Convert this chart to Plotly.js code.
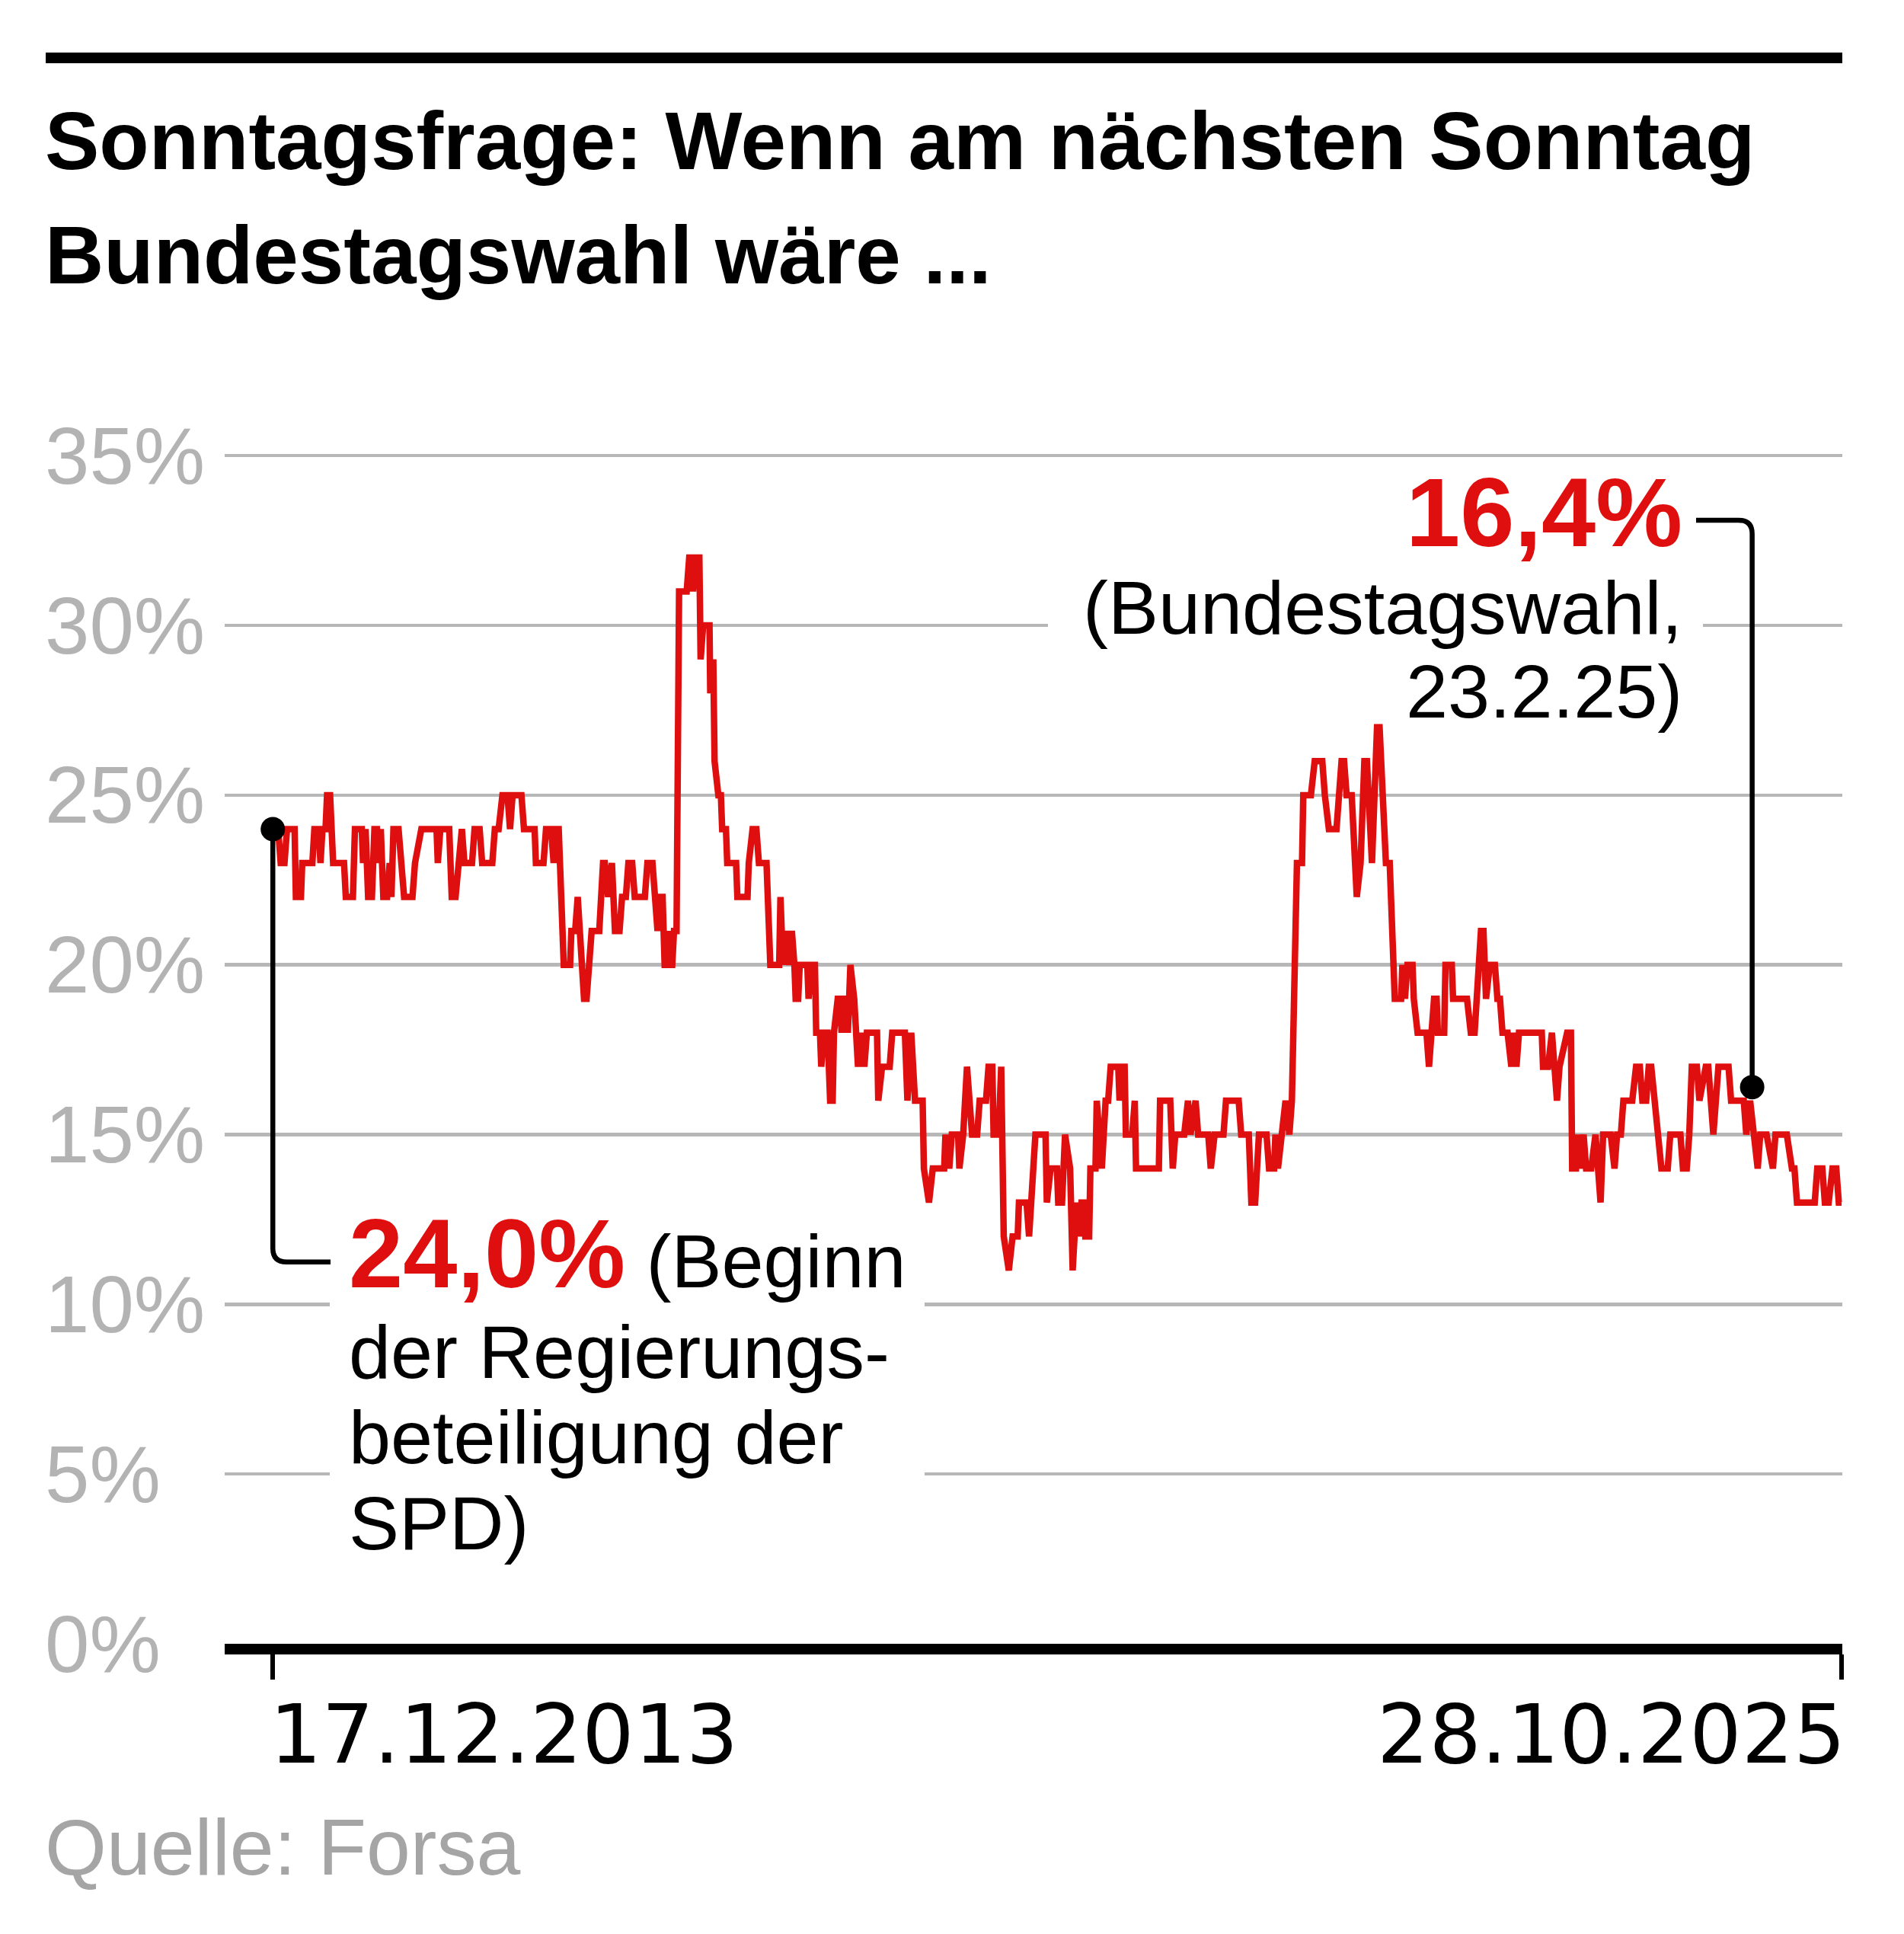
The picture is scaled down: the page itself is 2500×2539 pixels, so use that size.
<!DOCTYPE html>
<html><head><meta charset="utf-8">
<script src="https://cdn.plot.ly/plotly-3.0.1.min.js"></script>
<style>html,body{margin:0;padding:0;background:#fff;}#chart{width:2500px;height:2539px;}</style>
</head><body><div id="chart"></div>
<script>
// ---- DATA (poll week since 17.12.2013, SPD share in %) ----
const startDate = '2013-12-17';
const endDate = '2025-10-28';
const electionDate = '2025-02-23';
const startValue = 24.0;
const electionValue = 16.4;
const yTicks = [0, 5, 10, 15, 20, 25, 30, 35];
const yTickLabels = ['0%', '5%', '10%', '15%', '20%', '25%', '30%', '35%'];
const xTickLabels = ['17.12.2013', '28.10.2025'];

const seg1 = [[0,24],[2.1,24],[3.1,23],[4.6,23],[5.6,24],[8.6,24],[9.1,22],[11.1,22],[11.6,23],[15.6,23],[16.4,24],[18.1,24],[18.8,23],[19.6,24],[20.8,24],[21.4,25],[22.6,25],[23.8,23],[28.1,23],[28.8,22],[31.6,22],[32.4,24],[35.1,24],[35.6,23],[36.6,24],[37.6,22],[39.1,22],[40.1,24],[41.1,24],[42.1,23],[42.6,24],[43.6,22],[45.1,22],[46.1,23],[46.8,22],[47.6,24],[49.6,24],[50.6,23],[51.8,22],[55.1,22],[56.1,23],[58.6,24],[64.6,24],[65.1,23],[66.1,24],[69.6,24],[70.6,22],[72.1,22],[73.1,23],[74.6,24],[75.6,23],[78.6,23],[79.6,24],[81.6,24],[82.6,23],[86.6,23],[87.6,24],[89.1,24],[90.6,25],[92.6,25],[93.6,24],[94.6,25],[98.1,25],[99.1,24]];
const seg2 = [[103.3,24],[103.8,23],[106.8,23],[107.8,24],[109.8,24],[110.3,23],[110.8,23],[111.3,24],[112.8,24],[114.8,20],[117.3,20],[117.8,21],[119.3,21],[120.3,22],[121.3,21],[122.8,19],[123.8,19],[125.8,21],[128.8,21],[129.3,22],[130.3,23],[131.0,23],[132.3,22],[133.8,23],[135.0,21],[136.8,21],[137.8,22],[139.3,22],[140.3,23],[141.8,23],[142.8,22],[146.8,22],[147.8,23],[149.8,23],[150.8,22],[151.8,21],[152.8,22],[153.8,22],[154.6,20],[155.3,20],[156.0,21],[156.6,20],[157.6,20],[158.3,21],[159.3,21],[160.3,31],[163.3,31],[164.3,32],[165.3,32],[165.8,31],[166.8,32],[168.3,32],[168.8,29],[169.8,30],[172.3,30],[172.6,28],[173.8,29],[174.3,26],[175.8,25],[176.8,25],[177.3,24],[178.8,24],[179.3,23],[182.8,23],[183.3,22],[187.3,22],[187.8,23],[189.3,24],[190.8,24],[191.8,23],[194.8,23],[196.3,20],[199.8,20],[200.3,22],[201.3,20],[202.3,21],[203.8,20],[204.8,21],[205.8,20],[206.3,19],[207.3,19]];
const seg3 = [[207.9,20],[210.9,20],[211.4,19],[212.4,20],[213.9,20],[214.4,18],[215.9,18],[216.4,17],[217.4,18],[218.9,18],[219.9,16],[220.9,16],[221.4,18],[222.9,19],[223.9,19],[224.4,18],[224.9,19],[226.4,19],[226.9,18],[227.9,20],[229.4,19],[230.9,17],[231.9,18],[233.4,17],[234.4,18],[238.4,18],[238.9,16],[240.4,17],[243.4,17],[244.4,18],[249.4,18],[250.4,16],[251.9,18],[253.4,16],[256.4,16],[256.9,14],[258.9,13],[260.4,14],[264.9,14],[265.4,15],[266.9,14],[267.9,15],[270.4,15],[270.9,14],[272.4,15],[273.9,17],[275.9,15],[277.9,15],[278.9,16],[281.4,16],[282.4,17],[283.9,17],[284.4,15],[286.4,15],[287.4,17],[288.4,12],[290.4,11],[291.9,12],[293.9,12],[294.4,13],[297.4,13],[298.4,12],[300.9,15],[304.9,15],[305.4,13],[306.9,14],[309.4,14],[309.9,13],[311.4,13]];
const seg4 = [[312.6,15],[314.1,14],[314.6,14],[315.6,11],[317.1,13],[318.1,12],[319.1,13],[320.1,13],[320.6,12],[322.1,12],[322.6,14],[324.6,14],[325.1,16],[327.1,14],[328.6,16],[329.6,16],[330.6,17],[333.6,17],[334.1,16],[335.1,17],[336.1,17],[336.6,15],[339.1,15],[340.1,16],[340.6,14],[349.6,14],[350.1,16],[354.1,16],[355.1,14],[356.1,15],[359.6,15],[361.1,16],[362.1,15],[364.1,16],[365.1,15],[369.1,15],[370.1,14],[371.6,15],[375.1,15],[376.1,16],[381.1,16],[382.1,15],[385.1,15],[386.1,13],[387.6,13],[389.1,15],[392.1,15],[393.1,14],[395.1,14],[395.6,15],[396.6,14],[398.1,15],[399.6,16],[401.1,15],[402.1,16],[404.1,23],[406.1,23],[406.6,25],[409.6,25],[411.1,26],[414.1,26],[415.1,25]];
const seg5 = [[416.7,24],[419.7,24],[421.7,26],[422.7,26],[423.7,25],[425.7,25],[427.2,22],[427.7,22],[429.2,23],[430.7,26],[431.7,26],[433.2,23],[433.7,23],[435.7,27],[436.7,27],[439.2,23],[440.7,23],[442.7,19],[445.2,19],[445.7,20],[446.7,19],[447.7,20],[449.7,20],[450.2,19],[451.7,18],[455.2,18],[456.2,17],[458.2,19],[459.2,19],[459.7,18],[462.2,18],[462.7,20],[465.2,20],[465.7,19],[471.2,19],[472.7,18],[474.2,18],[476.7,21],[477.7,21],[478.7,19],[480.2,20],[482.2,20],[483.2,19],[484.2,19],[485.2,18],[487.2,18],[488.7,17],[489.7,18],[490.7,17],[491.7,18],[500.7,18],[501.2,17],[503.2,17],[504.7,18],[506.2,16],[506.7,16],[507.7,17],[510.7,18],[512.2,18],[512.7,14],[514.2,14],[514.7,15],[515.7,14],[517.2,15],[518.2,14],[520.2,14]];
const seg6 = [[521.9,15],[523.9,13],[524.9,15],[527.9,15],[529.4,14],[530.4,15],[531.9,15],[532.9,16],[536.4,16],[537.9,17],[539.4,17],[540.4,16],[541.9,16],[542.9,17],[543.9,17],[546.9,15],[547.9,14],[550.4,14],[551.4,15],[555.4,15],[556.4,14],[557.9,14],[558.9,15],[559.9,17],[561.9,17],[562.9,16],[565.4,17],[566.4,17],[568.4,15],[570.4,17],[574.4,17],[575.4,16],[580.4,16],[581.4,15],[582.9,16],[584.4,15],[585.9,14],[586.9,15],[589.4,15],[591.9,14],[592.9,15],[597.4,15],[599.4,14],[600.4,14],[601.4,13],[608.4,13],[609.4,14],[611.4,14],[612.4,13],[613.9,13],[615.4,14],[616.9,14],[617.9,13],[619,13]];

// ---- BUILD ----
const DAY = 86400000, WEEK = 7 * DAY;
const t0 = Date.parse(startDate + 'T00:00:00Z');
const tEnd = Date.parse(endDate + 'T00:00:00Z');
const tEl = Date.parse(electionDate + 'T00:00:00Z');
const iso = ms => new Date(ms).toISOString().slice(0, 19).replace('T', ' ');
const all = [].concat(seg1, seg2, seg3, seg4, seg5, seg6);
const xs = all.map(p => iso(t0 + p[0] * WEEK));
const ys = all.map(p => p[1]);

const RED = '#e00f0f';
const W = 2500, H = 2539;
const mL = 295, mR = 81, mT = 596, mB = 381;
const pw = W - mL - mR, ph = H - mT - mB;
const rs = t0 - 133 * DAY, re = tEnd + 2 * DAY;
const yMax = 35.05;
const px2paperX = px => (px - mL) / pw;
const px2paperY = py => (H - mB - py) / ph;
const px2ms = px => rs + (px - mL) / pw * (re - rs);
const leftX = px2paperX(57);

const traces = [
  {x: xs, y: ys, type: 'scatter', mode: 'lines', line: {color: RED, width: 8.5}, hoverinfo: 'skip'},
  {x: [startDate, electionDate], y: [startValue, electionValue], type: 'scatter', mode: 'markers',
   marker: {color: '#000', size: 32}, hoverinfo: 'skip'}
];

const ann = [];
yTicks.forEach((v, i) => ann.push({xref: 'paper', x: leftX, xanchor: 'left', yref: 'y', y: v, yanchor: 'middle',
  text: yTickLabels[i], showarrow: false, font: {family: 'Liberation Sans', size: 105, color: '#b3b3b3'}}));
const xFont = {family: 'DejaVu Sans', size: 107.5, color: '#000'};
ann.push({xref: 'x', x: startDate, xanchor: 'left', xshift: -6, yref: 'paper', y: px2paperY(2276), yanchor: 'middle',
  text: xTickLabels[0], showarrow: false, font: xFont});
ann.push({xref: 'x', x: endDate, xanchor: 'right', xshift: 8, yref: 'paper', y: px2paperY(2276), yanchor: 'middle',
  text: xTickLabels[1], showarrow: false, font: xFont});
const titleFont = {family: 'Liberation Sans', size: 107, color: '#000', weight: 700};
ann.push({xref: 'paper', x: leftX, xanchor: 'left', yref: 'paper', y: px2paperY(185), yanchor: 'middle',
  text: 'Sonntagsfrage: Wenn am nächsten Sonntag', showarrow: false, font: titleFont});
ann.push({xref: 'paper', x: leftX, xanchor: 'left', yref: 'paper', y: px2paperY(335), yanchor: 'middle',
  text: 'Bundestagswahl wäre ...', showarrow: false, font: titleFont});
ann.push({xref: 'paper', x: leftX, xanchor: 'left', yref: 'paper', y: px2paperY(2425), yanchor: 'middle',
  text: 'Quelle: Forsa', showarrow: false, font: {family: 'Liberation Sans', size: 104, color: '#a5a5a5'}});

// left annotation block
const lbX = px2paperX(456);
const bodyFont = {family: 'Liberation Sans', size: 99, color: '#000'};
ann.push({xref: 'paper', x: lbX, xanchor: 'left', yref: 'paper', y: px2paperY(1645), yanchor: 'middle', showarrow: false,
  text: '<span style="font-size:128px;color:' + RED + '"><b>24,0%</b></span> (Beginn', font: bodyFont});
['der Regierungs-', 'beteiligung der', 'SPD)'].forEach((t, i) => ann.push({xref: 'paper', x: lbX, xanchor: 'left',
  yref: 'paper', y: px2paperY([1774, 1886, 1999][i]), yanchor: 'middle', showarrow: false, text: t, font: bodyFont}));
// right annotation block
const rbX = px2paperX(2211);
ann.push({xref: 'paper', x: rbX, xanchor: 'right', yref: 'paper', y: px2paperY(672), yanchor: 'middle', showarrow: false,
  text: '<b>16,4%</b>', font: {family: 'Liberation Sans', size: 128, color: RED}});
['(Bundestagswahl,', '23.2.25)'].forEach((t, i) => ann.push({xref: 'paper', x: rbX, xanchor: 'right',
  yref: 'paper', y: px2paperY([797, 907][i]), yanchor: 'middle', showarrow: false, text: t, font: bodyFont}));

// connectors (rounded corner paths, x in ms for date axis)
const rx = 18 / pw * (re - rs), ry = 18 / ph * yMax;
const lyc = 11.25, lxe = px2ms(434);
const leftPath = `M ${t0},${startValue} L ${t0},${lyc + ry} Q ${t0},${lyc} ${t0 + rx},${lyc} L ${lxe},${lyc}`;
const ryc = 33.1, rxs = px2ms(2227);
const rightPath = `M ${rxs},${ryc} L ${tEl - rx},${ryc} Q ${tEl},${ryc} ${tEl},${ryc - ry} L ${tEl},${electionValue}`;

const shapes = [
  {type: 'line', xref: 'paper', yref: 'paper', x0: px2paperX(60), x1: 1, y0: px2paperY(76), y1: px2paperY(76),
   line: {color: '#000', width: 14}},
  {type: 'rect', xref: 'x', yref: 'y', layer: 'between', x0: iso(px2ms(433)), x1: iso(px2ms(1214)), y0: 2.5, y1: 12.5,
   fillcolor: '#fff', line: {width: 0}},
  {type: 'rect', xref: 'x', yref: 'y', layer: 'between', x0: iso(px2ms(1376)), x1: iso(px2ms(2236)), y0: 29.3, y1: 30.7,
   fillcolor: '#fff', line: {width: 0}},
  {type: 'path', xref: 'x', yref: 'y', path: leftPath, line: {color: '#000', width: 6.5}},
  {type: 'path', xref: 'x', yref: 'y', path: rightPath, line: {color: '#000', width: 6.5}}
];

const layout = {
  width: W, height: H, margin: {l: mL, r: mR, t: mT, b: mB, pad: 0},
  paper_bgcolor: '#fff', plot_bgcolor: '#fff', showlegend: false,
  xaxis: {type: 'date', range: [iso(rs), iso(re)], tickvals: [startDate, endDate],
    showticklabels: false, ticks: 'outside', ticklen: 33, tickwidth: 6, tickcolor: '#000',
    showline: true, linecolor: '#000', linewidth: 14, showgrid: false, zeroline: false, fixedrange: true},
  yaxis: {range: [0, yMax], tickvals: yTicks, showticklabels: false, showgrid: true, gridcolor: '#b7b7b7', gridwidth: 4.5,
    zeroline: false, showline: false, ticks: '', fixedrange: true},
  annotations: ann, shapes: shapes
};
Plotly.newPlot('chart', traces, layout, {staticPlot: true, displayModeBar: false});
</script></body></html>
